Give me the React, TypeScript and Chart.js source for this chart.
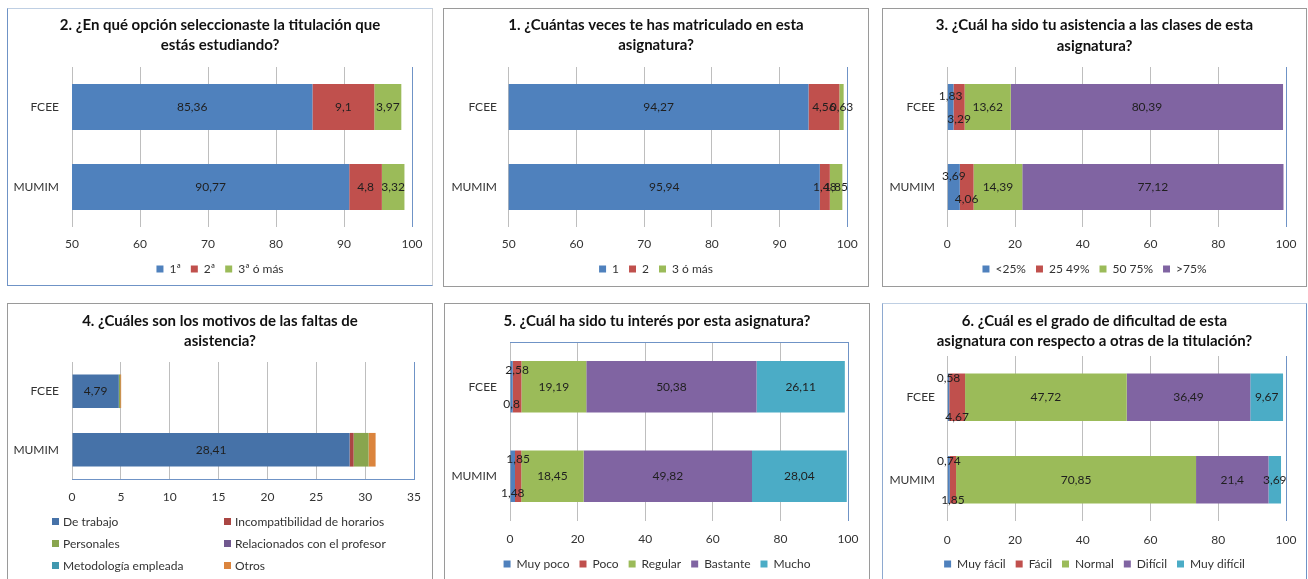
import React, { useEffect, useRef } from "react";
import { Chart, registerables } from "chart.js";

Chart.register(...registerables);

const FONT = "Lato, 'Open Sans', sans-serif";
const TXT = "#333333";
const GRID = "#BEBEBE";
const AXIS_BLUE = "#6F93C6";

// ---------- data ----------
const categories = ["FCEE", "MUMIM"];

// 2. Opción de titulación
const q2Title = ["2. ¿En qué opción seleccionaste la titulación que", "estás estudiando?"];
const q2Series = ["1ª", "2ª", "3ª ó más"];
const q2Primera = [85.36, 90.77];
const q2Segunda = [9.1, 4.8];
const q2Tercera = [3.97, 3.32];
const q2Ticks = [50, 60, 70, 80, 90, 100];

// 1. Matrículas
const q1Title = ["1. ¿Cuántas veces te has matriculado en esta", "asignatura?"];
const q1Series = ["1", "2", "3 ó más"];
const q1Una = [94.27, 95.94];
const q1Dos = [4.56, 1.48];
const q1Tres = [0.63, 1.85];
const q1Ticks = [50, 60, 70, 80, 90, 100];

// 3. Asistencia
const q3Title = ["3. ¿Cuál ha sido tu asistencia a las clases de esta", "asignatura?"];
const q3Series = ["<25%", "25 49%", "50 75%", ">75%"];
const q3Menos25 = [1.83, 3.69];
const q3De25a49 = [3.29, 4.06];
const q3De50a75 = [13.62, 14.39];
const q3Mas75 = [80.39, 77.12];
const q3Ticks = [0, 20, 40, 60, 80, 100];

// 4. Motivos de las faltas
const q4Title = ["4. ¿Cuáles son los motivos de las faltas de", "asistencia?"];
const q4Series = [
  "De trabajo",
  "Incompatibilidad de horarios",
  "Personales",
  "Relacionados con el profesor",
  "Metodología empleada",
  "Otros",
];
const q4Trabajo = [4.79, 28.41];
const q4Horarios = [0, 0.41];
const q4Personales = [0.14, 1.53];
const q4Profesor = [0, 0];
const q4Metodologia = [0, 0];
const q4Otros = [0.1, 0.72];
const q4Ticks = [0, 5, 10, 15, 20, 25, 30, 35];

// 5. Interés
const q5Title = ["5. ¿Cuál ha sido tu interés por esta asignatura?"];
const q5Series = ["Muy poco", "Poco", "Regular", "Bastante", "Mucho"];
const q5MuyPoco = [0.8, 1.48];
const q5Poco = [2.58, 1.85];
const q5Regular = [19.19, 18.45];
const q5Bastante = [50.38, 49.82];
const q5Mucho = [26.11, 28.04];
const q5Ticks = [0, 20, 40, 60, 80, 100];

// 6. Dificultad
const q6Title = ["6. ¿Cuál es el grado de dificultad de esta", "asignatura con respecto a otras de la titulación?"];
const q6Series = ["Muy fácil", "Fácil", "Normal", "Difícil", "Muy difícil"];
const q6MuyFacil = [0.58, 0.74];
const q6Facil = [4.67, 1.85];
const q6Normal = [47.72, 70.85];
const q6Dificil = [36.49, 21.4];
const q6MuyDificil = [9.67, 3.69];
const q6Ticks = [0, 20, 40, 60, 80, 100];

// ---------- styles ----------
const OFFICE = ["#4F81BD", "#C0504D", "#9BBB59", "#8064A2", "#4BACC6", "#F79646"];
const CLASSIC = ["#4672A8", "#AA4643", "#89A54E", "#71588F", "#4198AF", "#DB843D"];

type Series = { label: string; data: number[]; color: string; showValue?: boolean; shift?: number };
type Spec = {
  key: string;
  title: string[];
  series: Series[];
  ticks: number[];
  box: { left: number; top: number; width: number; height: number };
  borders: [string, string, string, string];
  area: { l: number; r: number; t: number; b: number };
  titleY: number;
  tickY: number;
  legendY?: number;
  yLabelRight: number;
  xBorderColor?: string;
  frameTopColor?: string;
  htmlLegend?: { cols: number[]; rows: number[] };
};

const GRAY_BORDER: [string, string, string, string] = ["#9A9A9A", "#9A9A9A", "#9A9A9A", "#9A9A9A"];

const specs: Spec[] = [
  {
    key: "q2",
    title: q2Title,
    series: [
      { label: q2Series[0], data: q2Primera, color: OFFICE[0], showValue: true },
      { label: q2Series[1], data: q2Segunda, color: OFFICE[1], showValue: true },
      { label: q2Series[2], data: q2Tercera, color: OFFICE[2], showValue: true },
    ],
    ticks: q2Ticks,
    box: { left: 7, top: 8, width: 426, height: 278 },
    borders: ["#BFCFE3", "#D0D0D0", AXIS_BLUE, AXIS_BLUE],
    area: { l: 72, r: 412, t: 67, b: 227 },
    titleY: 25,
    tickY: 244,
    legendY: 269,
    yLabelRight: 59,
  },
  {
    key: "q1",
    title: q1Title,
    series: [
      { label: q1Series[0], data: q1Una, color: OFFICE[0], showValue: true },
      { label: q1Series[1], data: q1Dos, color: OFFICE[1], showValue: true },
      { label: q1Series[2], data: q1Tres, color: OFFICE[2], showValue: true },
    ],
    ticks: q1Ticks,
    box: { left: 443, top: 8, width: 426, height: 279 },
    borders: GRAY_BORDER,
    area: { l: 508.7, r: 847.3, t: 67, b: 227 },
    titleY: 25,
    tickY: 244,
    legendY: 269,
    yLabelRight: 497,
  },
  {
    key: "q3",
    title: q3Title,
    series: [
      { label: q3Series[0], data: q3Menos25, color: OFFICE[0], showValue: true, shift: -11 },
      { label: q3Series[1], data: q3De25a49, color: OFFICE[1], showValue: true, shift: 12 },
      { label: q3Series[2], data: q3De50a75, color: OFFICE[2], showValue: true },
      { label: q3Series[3], data: q3Mas75, color: OFFICE[3], showValue: true },
    ],
    ticks: q3Ticks,
    box: { left: 882, top: 8, width: 425, height: 279 },
    borders: GRAY_BORDER,
    area: { l: 947.3, r: 1286, t: 67, b: 227 },
    titleY: 25.5,
    tickY: 244,
    legendY: 269,
    yLabelRight: 935,
  },
  {
    key: "q4",
    title: q4Title,
    series: [
      { label: q4Series[0], data: q4Trabajo, color: CLASSIC[0], showValue: true },
      { label: q4Series[1], data: q4Horarios, color: CLASSIC[1] },
      { label: q4Series[2], data: q4Personales, color: CLASSIC[2] },
      { label: q4Series[3], data: q4Profesor, color: CLASSIC[3] },
      { label: q4Series[4], data: q4Metodologia, color: CLASSIC[4] },
      { label: q4Series[5], data: q4Otros, color: CLASSIC[5] },
    ],
    ticks: q4Ticks,
    box: { left: 7, top: 303, width: 426, height: 290 },
    borders: GRAY_BORDER,
    area: { l: 72, r: 414, t: 362, b: 479 },
    titleY: 321,
    tickY: 497,
    yLabelRight: 59,
    xBorderColor: AXIS_BLUE,
    htmlLegend: { cols: [52, 224], rows: [521, 543, 565] },
  },
  {
    key: "q5",
    title: q5Title,
    series: [
      { label: q5Series[0], data: q5MuyPoco, color: OFFICE[0], showValue: true, shift: 17 },
      { label: q5Series[1], data: q5Poco, color: OFFICE[1], showValue: true, shift: -17 },
      { label: q5Series[2], data: q5Regular, color: OFFICE[2], showValue: true },
      { label: q5Series[3], data: q5Bastante, color: OFFICE[3], showValue: true },
      { label: q5Series[4], data: q5Mucho, color: OFFICE[4], showValue: true },
    ],
    ticks: q5Ticks,
    box: { left: 444, top: 303, width: 426, height: 290 },
    borders: GRAY_BORDER,
    area: { l: 510, r: 848, t: 342, b: 521 },
    titleY: 321,
    tickY: 539,
    legendY: 564,
    yLabelRight: 497,
    frameTopColor: AXIS_BLUE,
  },
  {
    key: "q6",
    title: q6Title,
    series: [
      { label: q6Series[0], data: q6MuyFacil, color: OFFICE[0], showValue: true, shift: -19 },
      { label: q6Series[1], data: q6Facil, color: OFFICE[1], showValue: true, shift: 20 },
      { label: q6Series[2], data: q6Normal, color: OFFICE[2], showValue: true },
      { label: q6Series[3], data: q6Dificil, color: OFFICE[3], showValue: true },
      { label: q6Series[4], data: q6MuyDificil, color: OFFICE[4], showValue: true },
    ],
    ticks: q6Ticks,
    box: { left: 882, top: 303, width: 425, height: 290 },
    borders: ["#BFCFE3", AXIS_BLUE, "#BFCFE3", "#8EA9D0"],
    area: { l: 947.3, r: 1286, t: 356, b: 521 },
    titleY: 321,
    tickY: 540,
    legendY: 564,
    yLabelRight: 935,
  },
];

const TITLE_LH = 20.5;
const TITLE_SIZE = 15;
const LEG_PAD = 10;
const LEG_FONT = 12;
const TICK_PAD = 3;
const TICK_LH = 14.4;

function valueLabelsPlugin() {
  return {
    id: "valueLabels",
    afterDatasetsDraw(chart: any) {
      const { ctx, chartArea } = chart;
      chart.data.datasets.forEach((ds: any, i: number) => {
        if (!ds.showValue) return;
        const meta = chart.getDatasetMeta(i);
        meta.data.forEach((el: any, j: number) => {
          const v = ds.data[j] as number;
          if (!v) return;
          const p = el.getProps(["x", "y", "base"], true);
          const lo = Math.max(Math.min(p.x, p.base), chartArea.left);
          const hi = Math.min(Math.max(p.x, p.base), chartArea.right);
          const cx = (lo + hi) / 2;
          const cy = p.y + (ds.shift || 0);
          ctx.save();
          ctx.font = `12px ${FONT}`;
          ctx.fillStyle = "#1F1F1F";
          ctx.textAlign = "center";
          ctx.textBaseline = "middle";
          ctx.fillText(String(v).replace(".", ","), cx, cy);
          ctx.restore();
        });
      });
    },
  };
}

function framePlugin(topColor?: string) {
  return {
    id: "frameTop",
    afterDatasetsDraw(chart: any) {
      if (!topColor) return;
      const { ctx, chartArea } = chart;
      ctx.save();
      ctx.strokeStyle = topColor;
      ctx.lineWidth = 1;
      ctx.beginPath();
      ctx.moveTo(chartArea.left, Math.round(chartArea.top) + 0.5);
      ctx.lineTo(chartArea.right, Math.round(chartArea.top) + 0.5);
      ctx.stroke();
      ctx.restore();
    },
  };
}

function buildConfig(s: Spec): any {
  const cx0 = s.box.left + 1;
  const cy0 = s.box.top + 1;
  const cw = s.box.width - 2;
  const ch = s.box.height - 2;
  const areaL = s.area.l - cx0;
  const areaR = s.area.r - cx0;
  const areaT = s.area.t - cy0;
  const areaB = s.area.b - cy0;
  const n = s.title.length;
  const titlePadTop = s.titleY - cy0 - TITLE_LH / 2;
  const titlePadBottom = areaT - (titlePadTop + n * TITLE_LH);
  const itemH = LEG_FONT;
  const legH = itemH + LEG_PAD + 10;
  let legTop: number;
  let padBottom: number;
  if (s.legendY != null) {
    legTop = s.legendY - cy0 - LEG_PAD - itemH / 2;
    padBottom = ch - (legTop + legH);
  } else {
    legTop = areaB + 40;
    padBottom = ch - legTop;
  }
  const xAxisH = legTop - areaB;
  const tickLen = s.tickY - s.area.b - TICK_PAD - TICK_LH / 2;
  const yPad = s.area.l - s.yLabelRight;
  const min = s.ticks[0];
  const max = s.ticks[s.ticks.length - 1];
  const step = s.ticks[1] - s.ticks[0];

  return {
    type: "bar",
    data: {
      labels: categories,
      datasets: s.series.map((se) => ({
        label: se.label,
        data: se.data,
        backgroundColor: se.color,
        borderWidth: 0,
        barPercentage: 0.575,
        categoryPercentage: 1,
        showValue: se.showValue,
        shift: se.shift,
      })),
    },
    options: {
      indexAxis: "y",
      responsive: false,
      animation: false,
      events: [],
      layout: { padding: { left: 0, right: 0, top: 0, bottom: padBottom } },
      scales: {
        x: {
          type: "linear",
          position: "bottom",
          stacked: true,
          min,
          max,
          ticks: {
            stepSize: step,
            padding: TICK_PAD,
            color: TXT,
            font: { family: FONT, size: 12, lineHeight: 1.2 },
          },
          grid: {
            color: (c: any) => (c.tick && c.tick.value === max ? AXIS_BLUE : GRID),
            lineWidth: 1,
            drawTicks: true,
            tickLength: tickLen,
            tickColor: "rgba(0,0,0,0)",
          },
          border: { display: !!s.xBorderColor, color: s.xBorderColor || GRID, width: 1 },
          afterFit: (sc: any) => {
            sc.height = xAxisH;
          },
        },
        y: {
          type: "category",
          position: "left",
          stacked: true,
          grid: { display: false, drawTicks: false },
          border: { display: false },
          ticks: { padding: yPad, color: TXT, font: { family: FONT, size: 12 } },
          afterFit: (sc: any) => {
            sc.width = areaL;
          },
        },
        yRight: {
          type: "linear",
          position: "right",
          display: true,
          grid: { display: false, drawTicks: false },
          border: { display: false },
          ticks: { display: false },
          afterFit: (sc: any) => {
            sc.width = cw - areaR;
          },
        },
      },
      plugins: {
        title: {
          display: true,
          text: s.title,
          color: "#111111",
          font: { family: FONT, size: TITLE_SIZE, weight: "bold", lineHeight: `${TITLE_LH}px` },
          padding: { top: titlePadTop, bottom: titlePadBottom },
        },
        legend: {
          display: s.legendY != null,
          position: "bottom",
          align: "center",
          labels: {
            boxWidth: 7,
            boxHeight: 7,
            padding: LEG_PAD,
            color: TXT,
            font: { family: FONT, size: LEG_FONT },
          },
        },
        tooltip: { enabled: false },
      },
    },
    plugins: [valueLabelsPlugin(), framePlugin(s.frameTopColor)],
  };
}

function Panel({ spec }: { spec: Spec }) {
  const ref = useRef<HTMLCanvasElement>(null);
  useEffect(() => {
    if (!ref.current) return;
    const chart = new Chart(ref.current, buildConfig(spec));
    return () => chart.destroy();
  }, [spec]);
  const { box, borders } = spec;
  const cw = box.width - 2;
  const ch = box.height - 2;
  return (
    <div
      style={{
        position: "absolute",
        left: box.left,
        top: box.top,
        width: box.width,
        height: box.height,
        boxSizing: "border-box",
        borderStyle: "solid",
        borderWidth: 1,
        borderTopColor: borders[0],
        borderRightColor: borders[1],
        borderBottomColor: borders[2],
        borderLeftColor: borders[3],
        background: "#fff",
      }}
    >
      <canvas ref={ref} width={cw} height={ch} style={{ display: "block", width: cw, height: ch }} />
      {spec.htmlLegend &&
        spec.series.map((se, i) => {
          const col = i % 2;
          const row = Math.floor(i / 2);
          const lg = spec.htmlLegend!;
          return (
            <div
              key={se.label}
              style={{
                position: "absolute",
                left: lg.cols[col] - (box.left + 1),
                top: lg.rows[row] - (box.top + 1) - 8,
                height: 16,
                display: "flex",
                alignItems: "center",
                fontFamily: FONT,
                fontSize: LEG_FONT,
                color: TXT,
                whiteSpace: "nowrap",
              }}
            >
              <span style={{ display: "inline-block", width: 7, height: 7, background: se.color, marginRight: 4 }} />
              {se.label}
            </div>
          );
        })}
    </div>
  );
}

export default function App() {
  return (
    <div
      style={{
        position: "fixed",
        left: 0,
        top: 0,
        width: 1308,
        height: 579,
        overflow: "hidden",
        background: "#fff",
      }}
    >
      {specs.map((s) => (
        <Panel key={s.key} spec={s} />
      ))}
    </div>
  );
}
